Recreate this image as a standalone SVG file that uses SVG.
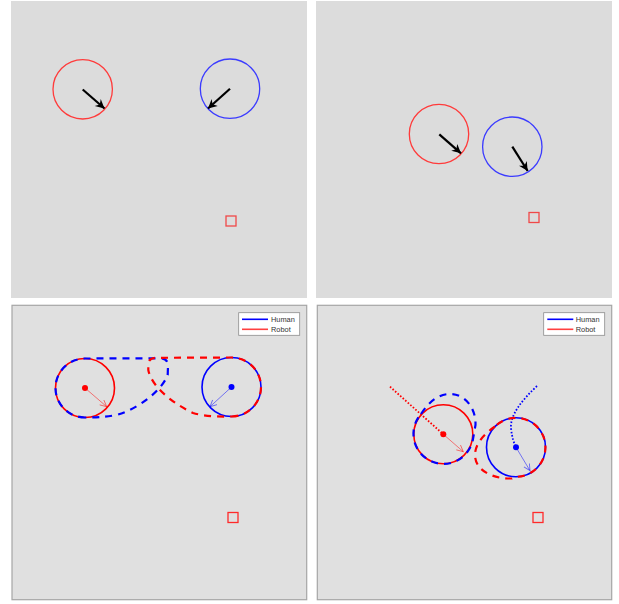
<svg xmlns="http://www.w3.org/2000/svg" width="619" height="604" viewBox="0 0 619 604">
<defs>
<style>
.bgTop{fill:#dcdcdc;stroke:none}
.bgBot{fill:#e0e0e0;stroke:#a6a6a6;stroke-width:1.2}
.cR1{fill:none;stroke:#ff3b3b;stroke-width:1.3}
.cB1{fill:none;stroke:#3b3bff;stroke-width:1.3}
.cR{fill:none;stroke:#ff0000;stroke-width:1.6}
.cB{fill:none;stroke:#0000ff;stroke-width:1.6}
.sq{fill:none;stroke:#f04848;stroke-width:1.3}
.blk{fill:none;stroke:#000;stroke-width:2.2;marker-end:url(#blkHead)}
.dR{fill:none;stroke:#ff0000;stroke-width:2.2;stroke-dasharray:7 6}
.dB{fill:none;stroke:#0000ff;stroke-width:2.2;stroke-dasharray:7 6}
.tR{fill:none;stroke:#ff0000;stroke-width:1.8;stroke-dasharray:1.6 1.8}
.tB{fill:none;stroke:#0000ff;stroke-width:1.8;stroke-dasharray:1.6 1.8}
.vR{fill:none;stroke:#ff0000;stroke-opacity:0.55;stroke-width:0.9;marker-end:url(#vR)}
.vB{fill:none;stroke:#0000ff;stroke-opacity:0.55;stroke-width:0.9;marker-end:url(#vB)}
.leg{fill:#fff;stroke:#8c8c8c;stroke-width:0.8}
.lt{font-family:"Liberation Sans",Arial,sans-serif;font-size:7.4px;fill:#333}
</style>
<marker id="blkHead" markerUnits="userSpaceOnUse" markerWidth="12" markerHeight="12" viewBox="-10 -6 12 12" refX="0" refY="0" orient="auto">
<path d="M0,0 L-9,-4.6 L-6.2,0 L-9,4.6 Z" fill="#000"/>
</marker>
<marker id="vR" markerUnits="userSpaceOnUse" markerWidth="10" markerHeight="10" viewBox="-8 -5 10 10" refX="0" refY="0" orient="auto">
<path d="M-6.5,-3.2 L0,0 L-6.5,3.2" fill="none" stroke="#ff0000" stroke-opacity="0.55" stroke-width="0.9"/>
</marker>
<marker id="vB" markerUnits="userSpaceOnUse" markerWidth="10" markerHeight="10" viewBox="-8 -5 10 10" refX="0" refY="0" orient="auto">
<path d="M-6.5,-3.2 L0,0 L-6.5,3.2" fill="none" stroke="#0000ff" stroke-opacity="0.55" stroke-width="0.9"/>
</marker>
</defs>

<!-- Panel 1 -->
<g id="panel1">
<rect class="bgTop" x="11" y="1" width="296" height="297"/>
<g id="p1-robot"><circle class="cR1" cx="82.7" cy="89.3" r="29.7"/></g>
<g id="p1-human"><circle class="cB1" cx="230" cy="88.7" r="29.7"/></g>
<g id="p1-goal"><rect class="sq" x="226" y="216" width="10" height="10"/></g>
<g id="p1-connectors">
<line class="blk" x1="82.7" y1="89.5" x2="104.5" y2="108.5"/>
<line class="blk" x1="230" y1="88.7" x2="208" y2="108.5"/>
</g>
</g>

<!-- Panel 2 -->
<g id="panel2">
<rect class="bgTop" x="316" y="1" width="296" height="297"/>
<g id="p2-robot"><circle class="cR1" cx="439" cy="134" r="29.7"/></g>
<g id="p2-human"><circle class="cB1" cx="512.3" cy="146.7" r="29.7"/></g>
<g id="p2-goal"><rect class="sq" x="529" y="212.5" width="10" height="10"/></g>
<g id="p2-connectors">
<line class="blk" x1="439.3" y1="134.3" x2="461" y2="153.3"/>
<line class="blk" x1="512.3" y1="146.7" x2="527.7" y2="171"/>
</g>
</g>

<!-- Panel 3 -->
<g id="panel3">
<rect class="bgBot" x="12" y="305.3" width="294.7" height="294.4"/>
<g id="p3-robot">
<circle class="cR" cx="85" cy="388" r="29.5"/>
<circle cx="85" cy="388" r="3" fill="#ff0000"/>
</g>
<g id="p3-human">
<circle class="cB" cx="231.5" cy="387" r="29.5"/>
<circle cx="231.5" cy="387" r="3" fill="#0000ff"/>
</g>
<g id="p3-goal"><rect class="sq" x="228" y="512.5" width="10" height="10" style="stroke:#ff2a2a"/></g>
<g id="p3-connectors">
<path class="dB" d="M 85 417.5 A 29.5 29.5 0 0 1 85 358.5 L 160 358.3 Q 168 358.3 168 366 L 167.7 375 C 162 390 140 408 116.7 415 C 105 417 95 417.5 85 417.5"/>
<path class="dR" d="M 231.5 416.5 A 29.5 29.5 0 0 0 231.5 357.5 L 156 357.8 Q 148.3 357.8 148.3 365 L 148.3 370 C 151 385 170 402 193 413 C 205 416.5 220 416.7 231.5 416.5"/>
<line class="vR" x1="85" y1="388" x2="106.7" y2="406.7"/>
<line class="vB" x1="231.5" y1="387" x2="210" y2="406.7"/>
</g>
<g id="p3-legend">
<rect class="leg" x="238.7" y="312.7" width="61" height="22.6"/>
<line x1="242" y1="319.3" x2="268" y2="319.3" stroke="#0000ff" stroke-width="1.6"/>
<line x1="242" y1="329.3" x2="268" y2="329.3" stroke="#ff4040" stroke-width="1.6"/>
<text class="lt" x="271" y="322">Human</text>
<text class="lt" x="271" y="332">Robot</text>
</g>
</g>

<!-- Panel 4 -->
<g id="panel4">
<rect class="bgBot" x="317.3" y="305.3" width="294.4" height="294.4"/>
<g id="p4-robot">
<circle class="cR" cx="443.3" cy="434.3" r="29.5"/>
<circle cx="443.3" cy="434.3" r="3" fill="#ff0000"/>
</g>
<g id="p4-human">
<circle class="cB" cx="516" cy="447.3" r="29.5"/>
<circle cx="516" cy="447.3" r="3" fill="#0000ff"/>
</g>
<g id="p4-goal"><rect class="sq" x="533" y="512.5" width="10" height="10" style="stroke:#ff2a2a"/></g>
<g id="p4-connectors">
<path class="tR" d="M 390 386.7 L 443.3 434.3"/>
<path class="tB" d="M 537 386 C 522 400 510 415 511 428 C 512 438 514 443 516 447.3"/>
<path class="dB" d="M 421 414 C 430 400 440 394 450 394 C 465 394 476 408 475.5 425 L 473 439 A 30 30 0 1 1 421 414"/>
<path class="dR" d="M 495 426.5 C 484 434 475 444 475 455 C 475 470 492 479 512 478.5 L 516 476.8 A 29.5 29.5 0 1 0 495 426.5"/>
<line class="vR" x1="443.3" y1="434.3" x2="463.3" y2="451.7"/>
<line class="vB" x1="516" y1="447.3" x2="530" y2="470.7"/>
</g>
<g id="p4-legend">
<rect class="leg" x="543.7" y="312.7" width="61" height="22.6"/>
<line x1="547.3" y1="319.3" x2="573.3" y2="319.3" stroke="#0000ff" stroke-width="1.6"/>
<line x1="547.3" y1="329.3" x2="573.3" y2="329.3" stroke="#ff4040" stroke-width="1.6"/>
<text class="lt" x="575.7" y="322">Human</text>
<text class="lt" x="575.7" y="332">Robot</text>
</g>
</g>
</svg>
